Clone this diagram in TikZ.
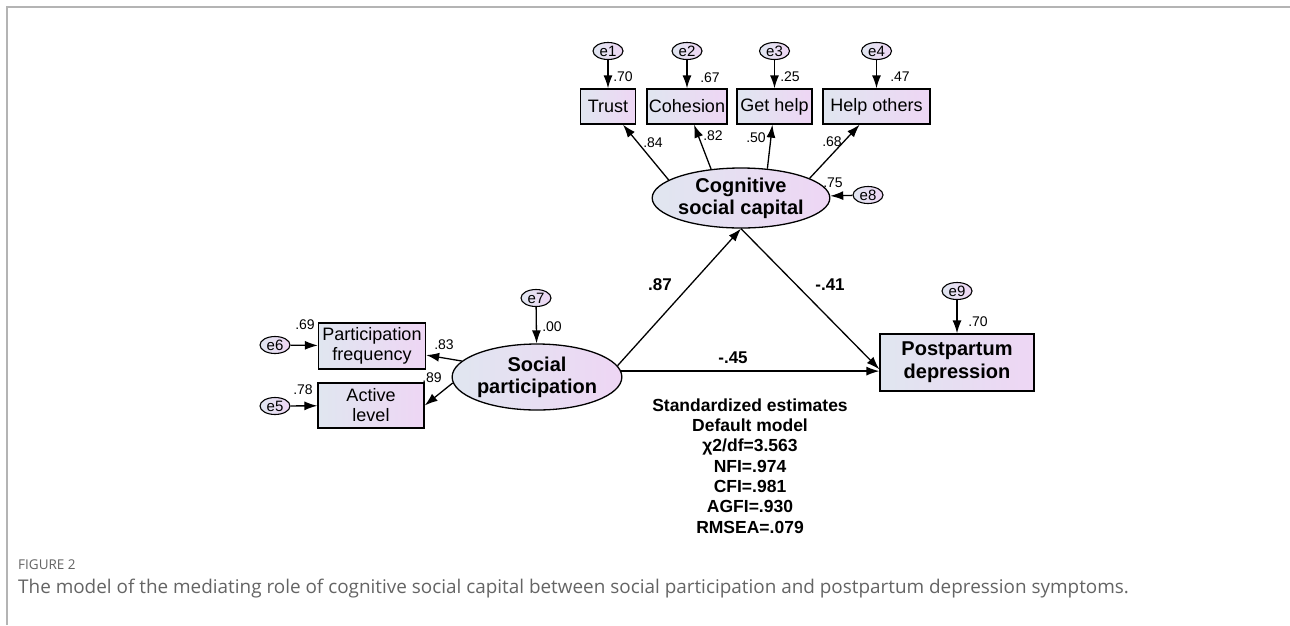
\documentclass[tikz,border=0pt]{standalone}
\usepackage{fontspec}
\setmainfont{Liberation Sans}
\newfontfamily\capfont{Open Sans}
\usetikzlibrary{shapes.geometric,arrows.meta}
\definecolor{fillL}{RGB}{224,230,240}
\definecolor{fillR}{RGB}{238,214,244}
\definecolor{framegray}{RGB}{180,180,180}
\definecolor{capgray}{RGB}{100,100,100}
\begin{document}
\begin{tikzpicture}[x=1pt, y=-1pt,
	obs/.style={rectangle, draw, line width=1.3pt, left color=fillL, right color=fillR, inner sep=0pt, align=center, font=\fontsize{18}{20}\selectfont},
	latent/.style={ellipse, draw, line width=1.3pt, left color=fillL, right color=fillR, inner sep=0pt, align=center, font=\bfseries\fontsize{20}{22}\selectfont},
	err/.style={ellipse, draw, line width=1.1pt, left color=fillL, right color=fillR, inner sep=0pt, minimum width=30pt, minimum height=17pt, font=\fontsize{15}{16}\selectfont},
	coef/.style={inner sep=0pt, font=\fontsize{14}{16}\selectfont},
	path coef/.style={inner sep=0pt, font=\bfseries\fontsize{17}{20}\selectfont},
	arr/.style={-{Latex[length=13pt,width=9pt]}, line width=1.3pt}]
	\useasboundingbox (0,0) rectangle (1290,625);
	\draw[framegray, line width=1.5pt] (7,625) -- (7,7) -- (1290,7);
	% indicators of cognitive social capital
	\node[err] (e1) at (608,51) {e1};
	\node[err] (e2) at (687,51) {e2};
	\node[err] (e3) at (774.5,51) {e3};
	\node[err] (e4) at (876.5,51) {e4};
	\node[obs, minimum width=55pt, minimum height=35pt] (trust) at (608,106.5) {Trust};
	\node[obs, minimum width=80pt, minimum height=35pt] (coh) at (687,106.5) {Cohesion};
	\node[obs, minimum width=75pt, minimum height=35pt] (gethelp) at (774.5,106.5) {Get help};
	\node[obs, minimum width=107pt, minimum height=35pt] (helpothers) at (876.5,106.5) {Help others};
	\node[latent, minimum width=162pt, minimum height=60pt] (csc) at (741,198) {Cognitive\\social capital};
	\node[err] (e8) at (868,195) {e8};
	% social participation
	\node[latent, minimum width=161pt, minimum height=66pt] (sp) at (537,377) {Social\\participation};
	\node[err] (e7) at (536,298) {e7};
	\node[obs, minimum width=107pt, minimum height=46pt] (pf) at (372,346) {Participation\\frequency};
	\node[obs, minimum width=106pt, minimum height=45pt] (al) at (371,405.5) {Active\\level};
	\node[err] (e6) at (275,345) {e6};
	\node[err] (e5) at (275,406) {e5};
	% outcome
	\node[obs, minimum width=154pt, minimum height=57pt, font=\bfseries\fontsize{20}{23}\selectfont] (ppd) at (957,362.5) {Postpartum\\depression};
	\node[err] (e9) at (957,291) {e9};
	% connectors
	\draw[arr] (e1) -- (trust);
	\draw[arr] (e2) -- (coh);
	\draw[arr] (e3) -- (gethelp);
	\draw[arr] (e4) -- (helpothers);
	\draw[arr] (csc.166) -- (trust);
	\draw[arr] (csc.136) -- (coh);
	\draw[arr] (csc.48) -- (gethelp);
	\draw[arr] (csc.16) -- (helpothers);
	\draw[arr] (e8) -- (csc);
	\draw[arr] (e7) -- (sp);
	\draw[arr] (sp.168) -- (pf);
	\draw[arr] (sp.184) -- (al.east);
	\draw[arr] (e6) -- (pf);
	\draw[arr] (e5) -- (al);
	\draw[arr] (sp.8) -- (csc.south);
	\draw[arr] (csc.south) -- (ppd.-175);
	\draw[arr] (sp.4) -- (sp.4 -| ppd.west);
	\draw[arr] (e9) -- (ppd);
	% estimates
	\node[coef] (r1) at (623,77) {.70};
	\node[coef] (r2) at (710,78) {.67};
	\node[coef] (r3) at (790,77) {.25};
	\node[coef] (r4) at (900,77) {.47};
	\node[coef] (l1) at (653,143) {.84};
	\node[coef] (l2) at (713,136) {.82};
	\node[coef] (l3) at (756,138) {.50};
	\node[coef] (l4) at (832,142) {.68};
	\node[coef] (r8) at (833,183) {.75};
	\node[coef] (r7) at (552,327) {.00};
	\node[coef] (r6) at (305,325) {.69};
	\node[coef] (r5) at (303,390) {.78};
	\node[coef] (l6) at (444,345) {.83};
	\node[coef] (l5) at (432,378) {.89};
	\node[coef] (r9) at (978,322) {.70};
	\node[path coef] (a) at (660,285) {.87};
	\node[path coef] (b) at (830,285) {-.41};
	\node[path coef] (c) at (733,358) {-.45};
	\node[path coef, align=center, font=\bfseries\fontsize{17.5}{20.3}\selectfont] (fit) at (750,466) {Standardized estimates\\Default model\\χ2/df=3.563\\NFI=.974\\CFI=.981\\AGFI=.930\\RMSEA=.079};
	% caption
	\node[anchor=west, inner sep=0pt, text=capgray, font=\capfont\fontsize{13.5}{15}\selectfont] (fig) at (18,565) {FIGURE 2};
	\node[anchor=west, inner sep=0pt, text=capgray, font=\capfont\fontsize{18.9}{20}\selectfont] (cap) at (18,589) {The model of the mediating role of cognitive social capital between social participation and postpartum depression symptoms.};
\end{tikzpicture}
\end{document}
